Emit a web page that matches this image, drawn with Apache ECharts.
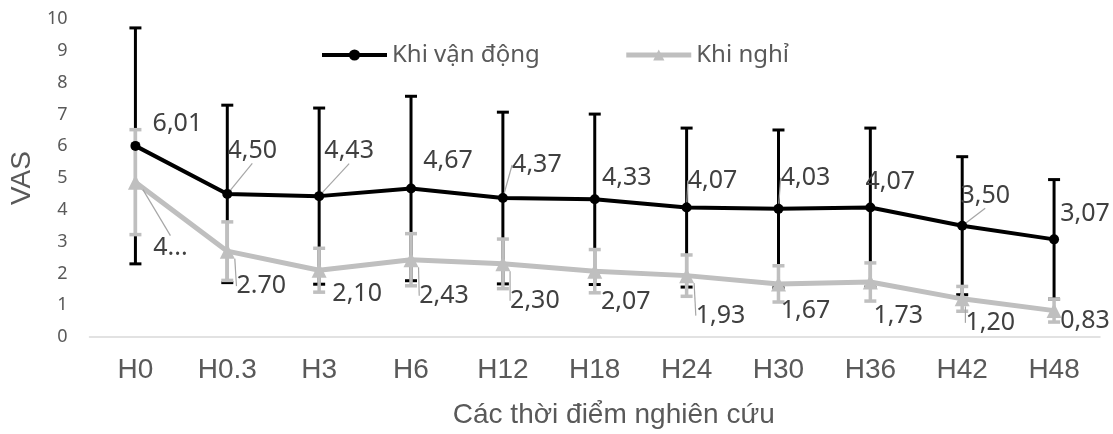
<!DOCTYPE html>
<html>
<head>
<meta charset="utf-8">
<script src="https://cdn.jsdelivr.net/npm/echarts@6/dist/echarts.min.js"></script>
<style>html,body{margin:0;padding:0;background:#fff}#c{width:1113px;height:434px}</style>
</head>
<body>
<div id="c"></div>
<script>
// ---- data ----
var categories = ['H0', 'H0.3', 'H3', 'H6', 'H12', 'H18', 'H24', 'H30', 'H36', 'H42', 'H48'];
var activeMean = [6.01, 4.50, 4.43, 4.67, 4.37, 4.33, 4.07, 4.03, 4.07, 3.50, 3.07];
var activeSD   = [3.71, 2.79, 2.77, 2.90, 2.70, 2.68, 2.50, 2.48, 2.50, 2.17, 1.88];
var restMean   = [4.87, 2.70, 2.10, 2.43, 2.30, 2.07, 1.93, 1.67, 1.73, 1.20, 0.83];
var restSD     = [1.65, 0.92, 0.69, 0.82, 0.78, 0.68, 0.65, 0.57, 0.60, 0.39, 0.36];
var activeLabels = ['6,01', '4,50', '4,43', '4,67', '4,37', '4,33', '4,07', '4,03', '4,07', '3,50', '3,07'];
var restLabels   = ['4...', '2.70', '2,10', '2,43', '2,30', '2,07', '1,93', '1,67', '1,73', '1,20', '0,83'];
var yTicks = [0, 1, 2, 3, 4, 5, 6, 7, 8, 9, 10];

// ---- label placement (styling) ----
var activeOffsets = [[42,-22],[25,-43],[30,-45],[37,-28],[34,-33],[32,-21],[26,-27],[27,-31],[20,-26],[23,-30],[31,-25]];
var activeLines   = [false, true, true, false, true, false, true, true, false, true, false];
var restOffsets   = [[35,66],[34,35],[38,24],[33,36],[32,37],[31,31],[34,40],[27,27],[28,34],[28,24],[31,10]];
var restLines     = [true, true, false, true, true, false, true, false, false, true, false];

var BLACK = '#000000', GREY = '#bfbfbf';
var dataFont = 'Noto Sans';

function errData(mean, sd) {
  return mean.map(function (m, i) { return [i, m, sd[i]]; });
}
function errRender(color, width, capHalf) {
  return function (params, api) {
    var i = api.value(0), m = api.value(1), s = api.value(2);
    var top = api.coord([i, m + s]);
    var bot = api.coord([i, m - s]);
    var st = { stroke: color, lineWidth: width };
    return {
      type: 'group',
      children: [
        { type: 'line', shape: { x1: top[0], y1: top[1], x2: bot[0], y2: bot[1] }, style: st },
        { type: 'line', shape: { x1: top[0] - capHalf, y1: top[1], x2: top[0] + capHalf, y2: top[1] }, style: st },
        { type: 'line', shape: { x1: bot[0] - capHalf, y1: bot[1], x2: bot[0] + capHalf, y2: bot[1] }, style: st }
      ]
    };
  };
}
function lineData(mean, labels, lines) {
  return mean.map(function (v, i) {
    return {
      value: v,
      label: { formatter: labels[i] },
      labelLine: { show: lines[i], lineStyle: { color: '#a6a6a6', width: 1.2 } }
    };
  });
}

var chart = echarts.init(document.getElementById('c'));
chart.setOption({
  animation: false,
  backgroundColor: '#ffffff',
  grid: { left: 87, right: 13, top: 19, bottom: 94 },
  legend: {
    left: 315, top: 38,
    itemWidth: 65, itemHeight: 14, itemGap: 84,
    textStyle: { fontFamily: dataFont, fontSize: 24, color: '#595959' },
    data: [
      { name: 'Khi vận động', lineStyle: { width: 4, color: BLACK } },
      { name: 'Khi nghỉ', lineStyle: { width: 5, color: GREY } }
    ]
  },
  xAxis: {
    type: 'category',
    data: categories,
    boundaryGap: true,
    axisLine: { lineStyle: { color: '#d9d9d9', width: 1.5 } },
    axisTick: { show: false },
    axisLabel: { fontFamily: 'Liberation Sans', fontSize: 28, color: '#595959', margin: 19 },
    name: 'Các thời điểm nghiên cứu',
    nameLocation: 'middle',
    nameGap: 64,
    nameTextStyle: { fontFamily: 'Liberation Sans', fontSize: 28, color: '#595959', padding: [0, 0, 0, 38] }
  },
  yAxis: {
    type: 'value',
    min: yTicks[0], max: yTicks[yTicks.length - 1], interval: 1,
    axisLine: { show: false },
    axisTick: { show: false },
    splitLine: { show: false },
    axisLabel: { fontFamily: dataFont, fontSize: 18, color: '#595959', margin: 22 },
    name: 'VAS',
    nameLocation: 'middle',
    nameGap: 52,
    nameTextStyle: { fontFamily: 'Liberation Sans', fontSize: 28, color: '#595959' }
  },
  series: [
    {
      type: 'custom', name: 'errActive', z: 1,
      renderItem: errRender(BLACK, 3, 6),
      data: errData(activeMean, activeSD),
      silent: true
    },
    {
      type: 'custom', name: 'errRest', z: 2,
      renderItem: errRender(GREY, 3.5, 6),
      data: errData(restMean, restSD),
      silent: true
    },
    {
      type: 'line', name: 'Khi nghỉ', z: 3,
      data: lineData(restMean, restLabels, restLines),
      symbol: 'triangle', symbolSize: 15,
      itemStyle: { color: GREY },
      lineStyle: { color: GREY, width: 5 },
      label: { show: true, position: 'inside', fontFamily: dataFont, fontSize: 25, color: '#404040' },
      labelLayout: function (p) { var o = restOffsets[p.dataIndex]; return { dx: o[0], dy: o[1] }; }
    },
    {
      type: 'line', name: 'Khi vận động', z: 4,
      data: lineData(activeMean, activeLabels, activeLines),
      symbol: 'circle', symbolSize: 10,
      itemStyle: { color: BLACK },
      lineStyle: { color: BLACK, width: 4 },
      label: { show: true, position: 'inside', fontFamily: dataFont, fontSize: 25, color: '#404040' },
      labelLayout: function (p) { var o = activeOffsets[p.dataIndex]; return { dx: o[0], dy: o[1] }; }
    }
  ]
});
</script>
</body>
</html>
